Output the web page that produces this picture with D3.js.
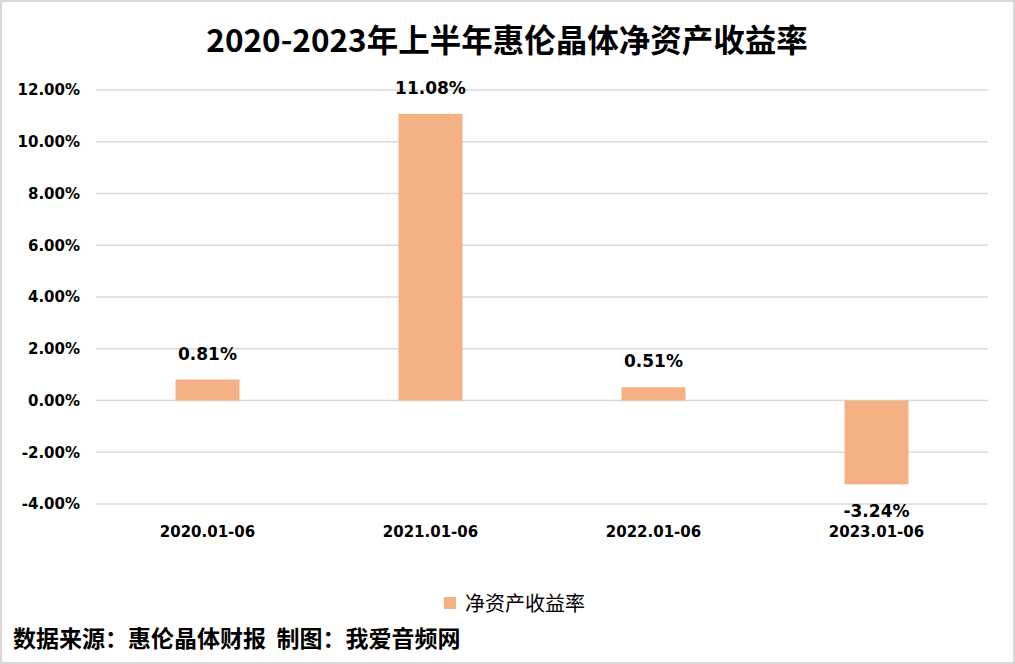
<!DOCTYPE html>
<html>
<head>
<meta charset="utf-8">
<script src="https://cdn.jsdelivr.net/npm/d3@7"></script>
<style>
  body { margin: 0; background: #fff; }
  svg { display: block; font-family: "Noto Sans CJK SC", "DejaVu Sans", sans-serif; }
  .num { font-family: "DejaVu Sans", sans-serif; font-weight: bold; }
</style>
</head>
<body>
<svg width="1015" height="664"></svg>
<script>
// chart data
var categories = ["2020.01-06", "2021.01-06", "2022.01-06", "2023.01-06"];
var values = [0.81, 11.08, 0.51, -3.24];
var yTicks = [12, 10, 8, 6, 4, 2, 0, -2, -4];
var seriesName = "净资产收益率";
var titleText = "2020-2023年上半年惠伦晶体净资产收益率";
var sourceText = "数据来源：惠伦晶体财报  制图：我爱音频网";

var svg = d3.select("svg"),
    width = 1015,
    height = 664;

var margin = {left: 96, right: 27, top: 90, bottom: 160};

// outer frame
svg.append("rect")
    .attr("x", 1).attr("y", 1)
    .attr("width", width - 2).attr("height", height - 2)
    .attr("fill", "#fff")
    .attr("stroke", "#d9d9d9")
    .attr("stroke-width", 2);

var x = d3.scaleBand()
    .domain(categories)
    .range([margin.left, width - margin.right])
    .paddingInner(0.713)
    .paddingOuter(0.3565);

var y = d3.scaleLinear()
    .domain([-4, 12])
    .range([504, 90]);

// gridlines
svg.append("g")
    .selectAll("line")
    .data(yTicks)
    .enter().append("line")
    .attr("x1", margin.left)
    .attr("x2", width - margin.right)
    .attr("y1", function(d) { return y(d); })
    .attr("y2", function(d) { return y(d); })
    .attr("stroke", "#d9d9d9")
    .attr("stroke-width", 1.5);

// y axis labels
var yAxis = d3.axisLeft(y)
    .tickValues(yTicks)
    .tickSize(0)
    .tickPadding(16)
    .tickFormat(function(d) { return d.toFixed(2) + "%"; });

var gy = svg.append("g")
    .attr("transform", "translate(" + margin.left + ",0)")
    .call(yAxis)
    .attr("font-family", null)
    .attr("font-size", null);
gy.select(".domain").remove();
gy.selectAll("text")
    .attr("class", "num")
    .style("font-size", "15px")
    .attr("fill", "#000");

// bars
svg.append("g")
    .selectAll("rect")
    .data(values)
    .enter().append("rect")
    .attr("x", function(d, i) { return x(categories[i]); })
    .attr("width", x.bandwidth())
    .attr("y", function(d) { return y(Math.max(0, d)); })
    .attr("height", function(d) { return Math.abs(y(d) - y(0)); })
    .attr("fill", "#f4b183");

// value labels
svg.append("g")
    .selectAll("text")
    .data(values)
    .enter().append("text")
    .attr("class", "num")
    .attr("x", function(d, i) { return x(categories[i]) + x.bandwidth() / 2; })
    .attr("y", function(d) { return d >= 0 ? y(d) - 20 : y(d) + 33; })
    .attr("text-anchor", "middle")
    .style("font-size", "17px")
    .attr("fill", "#000")
    .text(function(d) { return d.toFixed(2) + "%"; });

// category labels
svg.append("g")
    .selectAll("text")
    .data(categories)
    .enter().append("text")
    .attr("class", "num")
    .attr("x", function(d) { return x(d) + x.bandwidth() / 2; })
    .attr("y", 537)
    .attr("text-anchor", "middle")
    .style("font-size", "15px")
    .attr("fill", "#000")
    .text(function(d) { return d; });

// title
svg.append("text")
    .attr("x", 507)
    .attr("y", 52)
    .attr("text-anchor", "middle")
    .style("font-size", "31.5px")
    .style("font-weight", "bold")
    .attr("fill", "#000")
    .text(titleText);

// legend
svg.append("rect")
    .attr("x", 444).attr("y", 597)
    .attr("width", 12).attr("height", 12)
    .attr("fill", "#f4b183");
svg.append("text")
    .attr("x", 465)
    .attr("y", 611)
    .style("font-size", "20px")
    .attr("fill", "#000")
    .text(seriesName);

// footer
svg.append("text")
    .attr("x", 13)
    .attr("y", 647)
    .style("font-size", "23px")
    .style("font-weight", "bold")
    .style("white-space", "pre")
    .attr("fill", "#000")
    .text(sourceText);
</script>
</body>
</html>
